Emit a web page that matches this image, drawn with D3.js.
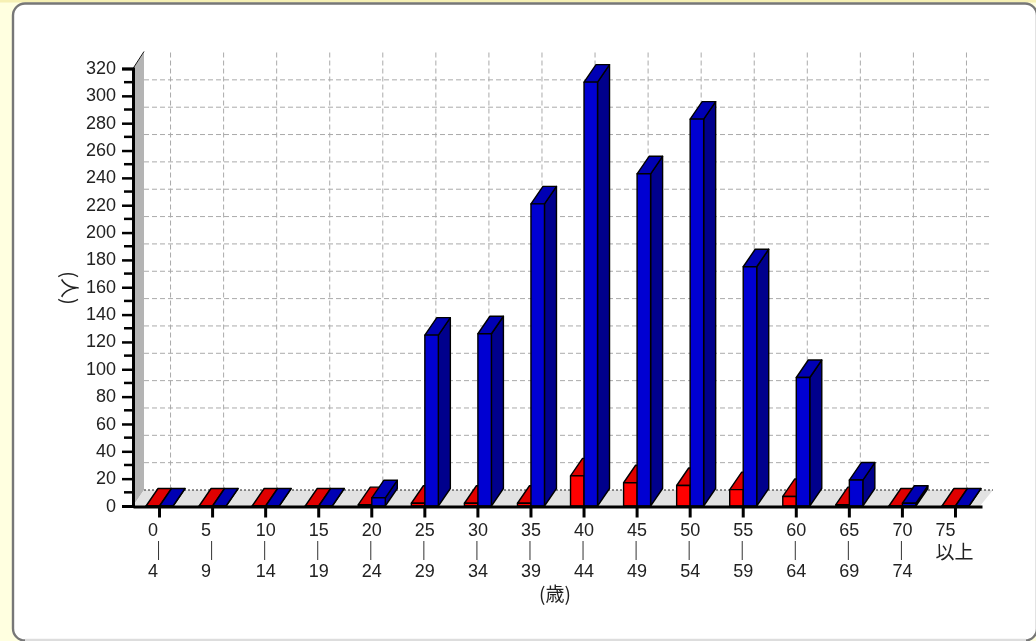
<!DOCTYPE html>
<html><head><meta charset="utf-8">
<script src="https://cdnjs.cloudflare.com/ajax/libs/d3/7.8.5/d3.min.js"></script>
<style>html,body{margin:0;padding:0;background:#ffffe0;overflow:hidden}svg{display:block;filter:blur(.4px)}
text{font-family:"Liberation Sans",sans-serif;font-size:18px;fill:#222}
.cjk{font-family:"Noto Sans CJK JP",sans-serif}</style></head><body>
<svg id="c" width="1036" height="641"></svg>
<script>
const categories=["0-4","5-9","10-14","15-19","20-24","25-29","30-34","35-39","40-44","45-49","50-54","55-59","60-64","65-69","70-74","75+"];
const labelTop=["0","5","10","15","20","25","30","35","40","45","50","55","60","65","70","75"];
const labelBottom=["4","9","14","19","24","29","34","39","44","49","54","59","64","69","74",null];
const redValues=[0,0,0,0,1,2,2,2,22,17,15,12,7,1,0,0];
const blueValues=[0,0,0,0,6,125,126,221,310,243,283,175,94,19,2,0];
const seriesNames=["red","blue"];
const yMajor=d3.range(0,321,20);
const yMinor=d3.range(10,320,20);

const svg=d3.select("#c");
const x=d3.scaleBand().domain(categories).range([133,982]);
const y=d3.scaleLinear().domain([0,320]).range([506,68.5]);
const inner=d3.scaleBand().domain(seriesNames).range([-13.5,13.5]);
const wallDx=11, wallDy=-16, barDx=12, barDy=-17.5;
const cx=c=>x(c)+x.bandwidth()/2;
const line=d3.line();

// panel
svg.append("rect").attr("x",0).attr("y",0).attr("width",1036).attr("height",2.5).attr("fill","#f6f0b4");
svg.append("rect").attr("x",13).attr("y",3.5).attr("width",1024).attr("height",637).attr("rx",12)
  .attr("fill","#fff").attr("stroke","#777").attr("stroke-width",2.4);
svg.append("line").attr("x1",25).attr("x2",1026).attr("y1",640).attr("y2",640).attr("stroke","#ddd").attr("stroke-width",2.4);

// wall and floor
const x0=x.range()[0], x1=x.range()[1];
svg.append("path").attr("d",line([[x0,y(0)],[x0+wallDx,y(0)+wallDy],[x0+wallDx,y(320)+wallDy],[x0,y(320)]])+"Z").attr("fill","#b4b4b4");
svg.append("path").attr("d",line([[x0,y(0)],[x0+wallDx,y(0)+wallDy],[x1+wallDx,y(0)+wallDy],[x1-2,y(0)]])+"Z").attr("fill","#e2e2e2");
svg.append("line").attr("x1",x0+wallDx).attr("x2",x1+wallDx).attr("y1",y(0)+wallDy).attr("y2",y(0)+wallDy).attr("stroke","#222").attr("stroke-dasharray","2,2");
svg.append("path").attr("d",line([[x0+wallDx,y(320)+wallDy-1],[x0,y(320)]])).attr("fill","none").attr("stroke","#111").attr("stroke-width",1);

// grid
const grid=svg.append("g").attr("stroke","#aaa").attr("stroke-dasharray","5,3").attr("stroke-width",1);
yMajor.filter(v=>v>0&&v<320).forEach(v=>grid.append("line").attr("x1",x0+wallDx).attr("x2",x1+wallDx-1).attr("y1",y(v)+wallDy).attr("y2",y(v)+wallDy));
categories.forEach(c=>grid.append("line").attr("x1",cx(c)+wallDx).attr("x2",cx(c)+wallDx).attr("y1",y(320)+wallDy).attr("y2",y(0)+wallDy));

// bars
function bar(g,c,name,v,cf,ct,cs){
  const l=cx(c)+inner(name), r=l+inner.bandwidth(), t=y(v), b=y(0);
  const add=(pts,fill)=>g.append("path").attr("d",line(pts)+"Z").attr("fill",fill).attr("stroke","#000").attr("stroke-width",1.4).attr("stroke-linejoin","round");
  add([[r,b],[r+barDx,b+barDy],[r+barDx,t+barDy],[r,t]],cs);
  add([[l,t],[r,t],[r+barDx,t+barDy],[l+barDx,t+barDy]],ct);
  add([[l,b],[r,b],[r,t],[l,t]],cf);
}
const bars=svg.append("g");
categories.forEach((c,i)=>{
  bar(bars,c,"red",redValues[i],"#ff0000","#e00000","#a00000");
  bar(bars,c,"blue",blueValues[i],"#0000d2","#0000b4","#00008c");
});

// y axis
const axL=d3.axisLeft(y).tickValues(yMajor).tickSize(11).tickPadding(6);
const gy=svg.append("g").attr("transform",`translate(${x0},0)`).call(axL);
gy.select(".domain").attr("stroke","#000").attr("stroke-width",3);
gy.selectAll(".tick line").attr("stroke","#000").attr("stroke-width",2.5);
gy.attr("font-family",null).attr("font-size",null);
gy.selectAll("text").attr("fill","#222").attr("dy","0.28em");
const gm=svg.append("g").attr("stroke","#000").attr("stroke-width",2.5);
yMinor.forEach(v=>gm.append("line").attr("x1",x0-9).attr("x2",x0).attr("y1",y(v)).attr("y2",y(v)));

// x axis
const axB=d3.axisBottom(x).tickFormat("").tickSize(11).tickSizeOuter(0);
const gx=svg.append("g").attr("transform",`translate(0,${y(0)+.5})`).call(axB);
gx.attr("font-family",null).attr("font-size",null);
gx.select(".domain").attr("stroke","#000").attr("stroke-width",3);
gx.selectAll(".tick line").attr("stroke","#000").attr("stroke-width",3);

// x labels
categories.forEach((c,i)=>{
  const m=cx(c), top=labelTop[i], bot=labelBottom[i];
  const off=top.length===1?-6.5:0;
  const t=(s,px,py)=>svg.append("text").attr("x",px).attr("y",py).attr("text-anchor","middle").attr("dominant-baseline","central").text(s);
  if(bot===null){
    t(top,m-10,530);
    t("以上",m-1,550).attr("class","cjk").style("font-size","19px");
  }else{
    t(top,m+off,530);
    svg.append("line").attr("x1",m-1).attr("x2",m-1).attr("y1",541).attr("y2",560).attr("stroke","#333").attr("stroke-width",1);
    t(bot,m+off,570.5);
  }
});
// axis titles
svg.append("text").attr("class","cjk").attr("x",555).attr("y",592).attr("text-anchor","middle").attr("dominant-baseline","central").style("font-size","19px").text("(歳)");
svg.append("text").attr("class","cjk").attr("transform","translate(70,288) rotate(90)").attr("text-anchor","middle").attr("dominant-baseline","central").style("font-size","20px").text("(人)");
</script></body></html>
